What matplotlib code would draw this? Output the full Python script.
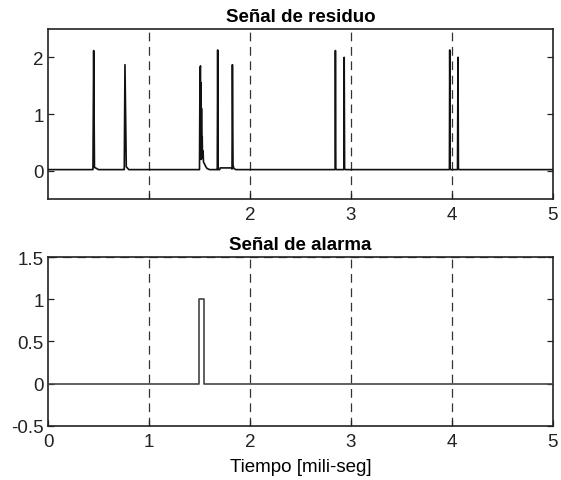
import matplotlib
matplotlib.use("Agg")
import matplotlib.pyplot as plt

plt.rcParams['font.family'] = ['Liberation Sans', 'DejaVu Sans']

# Residual signal: breakpoints of the trace (time in ms, amplitude)
residuo_t = [0.00, 0.44, 0.445, 0.452, 0.46, 0.50, 0.75, 0.755, 0.762, 0.775,
             0.80, 1.00, 1.40, 1.500, 1.505, 1.510, 1.512, 1.515, 1.518, 1.520,
             1.523, 1.527, 1.530, 1.535, 1.540, 1.550, 1.560, 1.575, 1.600, 1.670,
             1.676, 1.680, 1.684, 1.700, 1.705, 1.815, 1.822, 1.826, 1.832, 1.840,
             1.860, 2.00, 2.40, 2.843, 2.846, 2.850, 2.856, 2.930, 2.933, 2.937,
             2.944, 2.960, 3.40, 3.975, 3.978, 3.982, 3.988, 4.055, 4.060, 4.064,
             4.070, 4.090, 4.50, 5.00]
residuo_v = [0.02, 0.02, 0.02, 2.12, 0.06, 0.02, 0.02, 0.02, 1.87, 0.07,
             0.02, 0.02, 0.02, 0.02, 1.80, 1.85, 0.30, 1.55, 0.20, 1.10,
             0.25, 0.60, 0.22, 0.35, 0.15, 0.12, 0.08, 0.04, 0.02, 0.02,
             0.02, 2.13, 0.02, 0.02, 0.05, 0.05, 0.03, 1.87, 0.10, 0.04,
             0.02, 0.02, 0.02, 0.02, 2.12, 0.03, 0.02, 0.02, 2.00, 0.04,
             0.02, 0.02, 0.02, 0.02, 2.13, 0.03, 0.02, 0.02, 2.00, 0.04,
             0.02, 0.02, 0.02, 0.02]

# Alarm signal: a single unit pulse
alarma_t = [0.0, 1.50, 1.50, 1.545, 1.545, 5.0]
alarma_v = [0, 0, 1, 1, 0, 0]

grid_x = [1, 2, 3, 4]
ticks_top = [1, 2, 3, 4, 5]
ticklabels_top = ['', '2', '3', '4', '5']
yticks_top = [0, 1, 2]
ticks_bot = [0, 1, 2, 3, 4, 5]
yticks_bot = [-0.5, 0, 0.5, 1, 1.5]
yticklabels_bot = ['-0.5', '0', '0.5', '1', '1.5']

fig = plt.figure(figsize=(5.61, 4.81), dpi=100)
ax1 = fig.add_axes([0.0856, 0.584, 0.9, 0.3536])
ax2 = fig.add_axes([0.0856, 0.1123, 0.9, 0.3513])

fs = 13.5
for ax in (ax1, ax2):
    ax.set_xlim(0, 5)
    for gx in grid_x:
        ax.axvline(gx, color='#333333', lw=0.9, ls=(0, (7, 4.5)), zorder=1)
    ax.tick_params(direction='in', length=4, width=0.9, labelsize=fs,
                   top=False, right=True, colors='#222222')
    ax.tick_params(axis='x', pad=5)
    ax.tick_params(axis='y', pad=3)
    for s in ax.spines.values():
        s.set_linewidth(1.2)
        s.set_color('#222222')

ax1.plot(residuo_t, residuo_v, color='#111111', lw=1.2, zorder=3)
ax1.set_ylim(-0.5, 2.5)
ax1.set_xticks(ticks_top)
ax1.set_xticklabels(ticklabels_top)
ax1.set_yticks(yticks_top)
ax1.set_title('Señal de residuo', fontsize=fs, fontweight='bold', pad=6)

ax2.axhline(1.5, color='#333333', lw=0.9, ls=(0, (7, 4.5)), zorder=1)
ax2.plot(alarma_t, alarma_v, color='#444444', lw=1.2, zorder=3)
ax2.set_ylim(-0.5, 1.5)
ax2.set_xticks(ticks_bot)
ax2.set_yticks(yticks_bot)
ax2.set_yticklabels(yticklabels_bot)
ax2.set_title('Señal de alarma', fontsize=fs, fontweight='bold', pad=6)
ax2.set_xlabel('Tiempo [mili-seg]', fontsize=fs, labelpad=6)

fig.savefig('out.png', dpi=100)
